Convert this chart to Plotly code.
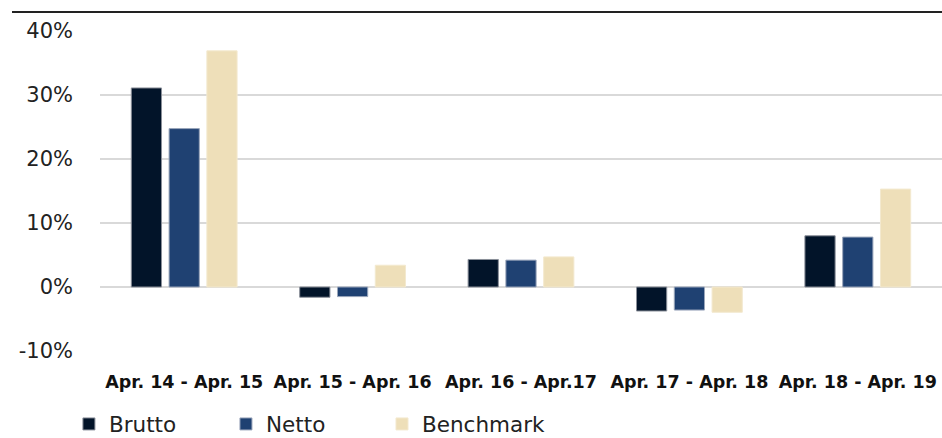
import plotly.graph_objects as go

categories = ["Apr. 14 - Apr. 15", "Apr. 15 - Apr. 16", "Apr. 16 - Apr.17", "Apr. 17 - Apr. 18", "Apr. 18 - Apr. 19"]
brutto = [31.1, -1.6, 4.3, -3.75, 8.0]
netto = [24.75, -1.5, 4.2, -3.6, 7.8]
benchmark = [36.9, 3.4, 4.7, -3.95, 15.3]
y_ticks = [-10, 0, 10, 20, 30, 40]
y_tick_labels = ["-10%", "0%", "10%", "20%", "30%", "40%"]

series = [("Brutto", brutto, "legend"), ("Netto", netto, "legend2"), ("Benchmark", benchmark, "legend3")]
colors = {"Brutto": "#021429", "Netto": "#1F4172", "Benchmark": "#EEDFB9"}
outlines = {"Brutto": "#8a8f99", "Netto": "#9aa6bb", "Benchmark": "#f3e9cf"}
legend_x = {"legend": -0.0369, "legend2": 0.1496, "legend3": 0.3349}

font_family = "'DejaVu Sans', sans-serif"

fig = go.Figure()
for name, vals, lg in series:
    fig.add_trace(go.Bar(
        x=categories, y=vals, name=name, legend=lg,
        marker=dict(color=colors[name], line=dict(color=outlines[name], width=1)),
    ))

def legend_style(x):
    return dict(
        orientation="h", x=x, xanchor="left", y=-0.228, yanchor="middle",
        font=dict(size=21.5, color="#222222", family=font_family),
        itemwidth=30, bgcolor="rgba(0,0,0,0)",
    )

fig.update_layout(
    width=942, height=438,
    margin=dict(l=100, r=0, t=31, b=87, autoexpand=False),
    paper_bgcolor="white", plot_bgcolor="white",
    barmode="group", bargap=0.327, bargroupgap=0.2,
    font=dict(family=font_family, color="#222222"),
    showlegend=True,
    legend=legend_style(legend_x["legend"]),
    legend2=legend_style(legend_x["legend2"]),
    legend3=legend_style(legend_x["legend3"]),
    xaxis=dict(
        showgrid=False, showline=False, ticks="",
        tickfont=dict(size=17.5, color="#111111", family=font_family, weight="bold"),
        ticklabelstandoff=18,
    ),
    yaxis=dict(
        range=[-10, 40], tickvals=y_ticks, ticktext=y_tick_labels,
        showgrid=True, gridcolor="#d9d9d9", gridwidth=1.5,
        zeroline=True, zerolinecolor="#d9d9d9", zerolinewidth=1.5,
        showline=False, ticks="",
        tickfont=dict(size=21, color="#222222", family=font_family),
        ticklabelstandoff=26,
    ),
    shapes=[dict(type="line", xref="paper", yref="paper",
                 x0=-0.1045, x1=1.0, y0=1.059, y1=1.059,
                 line=dict(color="#222222", width=2))],
)

fig.write_html(
    "out.html",
    config={"displayModeBar": False},
    post_script="document.documentElement.style.overflow='hidden';"
                "document.body.style.margin='0';document.body.style.overflow='hidden';",
)
